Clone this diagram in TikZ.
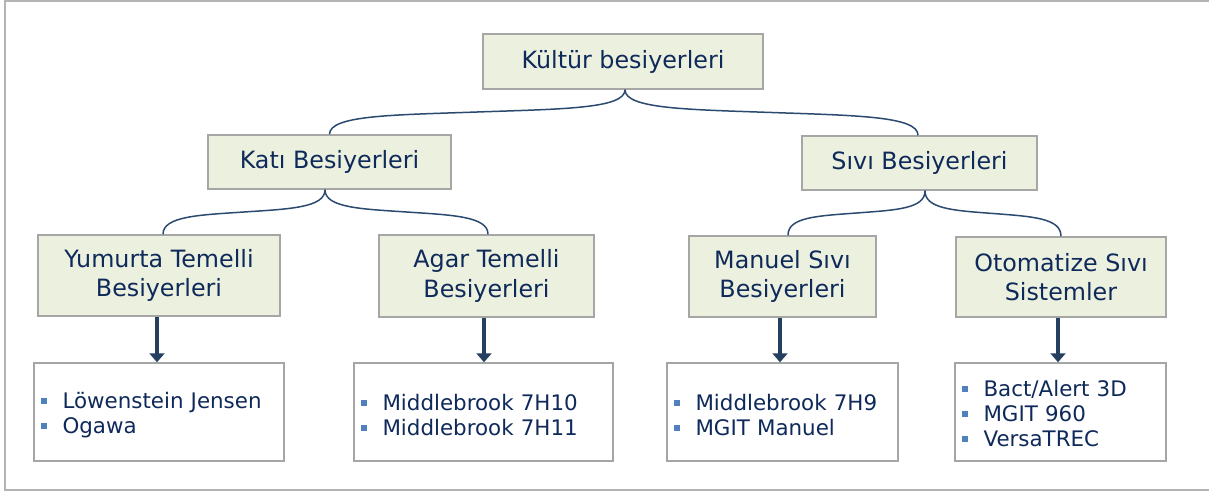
\documentclass[tikz,border=0pt]{standalone}
\usepackage{fontspec}
\setmainfont{DejaVu Sans}
\usetikzlibrary{calc,arrows.meta}

\definecolor{txt}{HTML}{0F2A5A}
\definecolor{boxfill}{HTML}{EBF1DE}
\definecolor{boxline}{HTML}{A6A6A6}
\definecolor{linkc}{HTML}{2B4A6F}
\definecolor{arrowc}{HTML}{243F60}
\definecolor{bulc}{HTML}{4F81BD}
\definecolor{framec}{HTML}{B4B4B4}

% square list bullet
\newcommand{\bul}{\textcolor{bulc}{\rule[4.5pt]{6pt}{6pt}}\hspace{15.5pt}}

% curved tree link: start, end, signed horizontal handle, vertical handle
\newcommand{\bracelink}[4]{%
  \draw[link] (#1) .. controls +(0,#4) and +(#3,-3) .. ($(#1)!0.5!(#2)$)
    .. controls +({-(#3)},3) and +(0,{-(#4)}) .. (#2);}

\begin{document}
\begin{tikzpicture}[x=1pt,y=-1pt,
  headbox/.style={draw=boxline, line width=1.5pt, fill=boxfill, text=txt,
    font=\fontsize{23.8}{29.7}\selectfont, align=center, inner sep=0pt},
  listbox/.style={draw=boxline, line width=1.5pt, fill=white,
    minimum height=98pt, inner sep=0pt},
  listtext/.style={text=txt, font=\fontsize{21.4}{25.3}\selectfont,
    align=left, inner xsep=7pt, inner ysep=0pt},
  link/.style={draw=linkc, line width=1.5pt},
  arr/.style={draw=arrowc, line width=3.5pt,
    -{Triangle[width=15pt,length=9pt]}}]

\useasboundingbox (0,0) rectangle (1209,492);

% outer frame (runs off the right edge)
\draw[framec, line width=2pt] (1209,1.5) -- (4.5,1.5) -- (4.5,490) -- (1209,490);

% category boxes
\node[headbox, minimum width=280pt, minimum height=55pt] (kul) at (623,61.5) {Kültür besiyerleri};
\node[headbox, minimum width=243pt, minimum height=54pt] (kati) at (329.5,162) {Katı Besiyerleri};
\node[headbox, minimum width=235pt, minimum height=54pt] (sivi) at (919.5,163) {Sıvı Besiyerleri};
\node[headbox, minimum width=242pt, minimum height=81pt] (yum) at (159,275.5) {Yumurta Temelli\\Besiyerleri};
\node[headbox, minimum width=215pt, minimum height=82pt] (agar) at (486.5,276) {Agar Temelli\\Besiyerleri};
\node[headbox, minimum width=187pt, minimum height=81pt] (man) at (782.5,276.5) {Manuel Sıvı\\Besiyerleri};
\node[headbox, minimum width=210pt, minimum height=80pt] (oto) at (1061,277) {Otomatize Sıvı\\Sistemler};

% product list frames
\node[listbox, minimum width=250pt] (l1) at (159,412) {};
\node[listbox, minimum width=259pt] (l2) at (483.5,412) {};
\node[listbox, minimum width=231pt] (l3) at (782.5,412) {};
\node[listbox, minimum width=211pt] (l4) at (1060.5,412) {};

% product list entries
\node[listtext, text width=236pt] (l1t) at ([yshift=-3pt]l1.center) {\bul Löwenstein Jensen\\\bul Ogawa};
\node[listtext, text width=245pt] (l2t) at ([yshift=-3pt]l2.center) {\bul Middlebrook 7H10\\\bul Middlebrook 7H11};
\node[listtext, text width=217pt] (l3t) at ([yshift=-3pt]l3.center) {\bul Middlebrook 7H9\\\bul MGIT Manuel};
\node[listtext, text width=197pt] (l4t) at ([yshift=-1.5pt]l4.center) {\bul Bact/Alert 3D\\\bul MGIT 960\\\bul VersaTREC};

% link anchor points
\coordinate (kulB) at ([xshift=2pt]kul.south);
\coordinate (katiT) at (kati.north);
\coordinate (siviT) at ([xshift=-1.5pt]sivi.north);
\coordinate (katiB) at ([xshift=-4.5pt]kati.south);
\coordinate (siviB) at ([xshift=5.5pt]sivi.south);
\coordinate (yumT) at ([xshift=4pt]yum.north);
\coordinate (agarT) at ([xshift=1.5pt]agar.north);
\coordinate (manT) at ([xshift=5.5pt]man.north);
\coordinate (otoT) at (oto.north);

% tree links
\bracelink{kulB}{katiT}{85}{19}
\bracelink{kulB}{siviT}{-85}{19}
\bracelink{katiB}{yumT}{45}{18}
\bracelink{katiB}{agarT}{-45}{18}
\bracelink{siviB}{manT}{40}{18}
\bracelink{siviB}{otoT}{-40}{18}

% arrows to the lists
\draw[arr] ([xshift=-2pt]yum.south) -- ([xshift=-2pt]yum.south |- l1.north);
\draw[arr] ([xshift=-2.5pt]agar.south) -- ([xshift=-2.5pt]agar.south |- l2.north);
\draw[arr] ([xshift=-2.5pt]man.south) -- ([xshift=-2.5pt]man.south |- l3.north);
\draw[arr] ([xshift=-3pt]oto.south) -- ([xshift=-3pt]oto.south |- l4.north);
\end{tikzpicture}
\end{document}
